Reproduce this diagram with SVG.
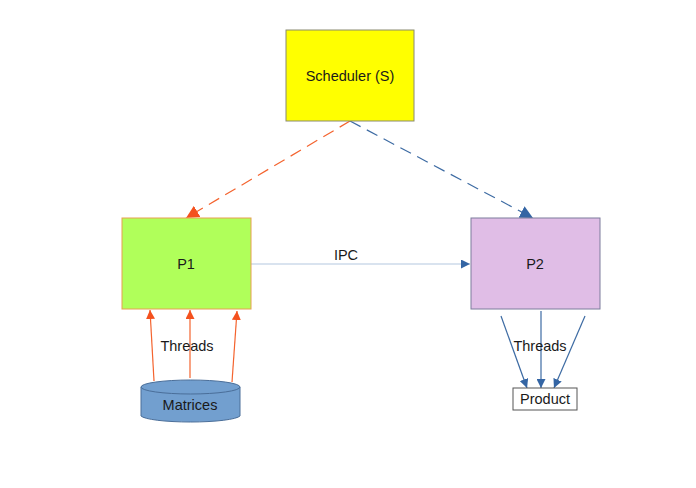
<svg xmlns="http://www.w3.org/2000/svg" width="696" height="488" viewBox="0 0 696 488">
<defs>
<style>
text{font-family:"Liberation Sans",Arial,sans-serif;font-size:14.5px;fill:#1a1a1a;text-anchor:middle;dominant-baseline:central}
.or{stroke:#f4632e;stroke-width:1.2;fill:none}
.bl{stroke:#3d6ba3;stroke-width:1.2;fill:none}
</style>
<marker id="ao" viewBox="0 0 10 10" refX="10" refY="5" markerWidth="9" markerHeight="9" markerUnits="userSpaceOnUse" orient="auto"><path d="M0,0L10,5L0,10z" fill="#f4511e"/></marker>
<marker id="ab" viewBox="0 0 10 10" refX="10" refY="5" markerWidth="9" markerHeight="9" markerUnits="userSpaceOnUse" orient="auto"><path d="M0,0L10,5L0,10z" fill="#3465a4"/></marker>
<marker id="aoL" viewBox="0 0 10 10" refX="10" refY="5" markerWidth="13" markerHeight="13" markerUnits="userSpaceOnUse" orient="auto"><path d="M0,0L10,5L0,10z" fill="#f4511e"/></marker>
<marker id="abL" viewBox="0 0 10 10" refX="10" refY="5" markerWidth="13" markerHeight="13" markerUnits="userSpaceOnUse" orient="auto"><path d="M0,0L10,5L0,10z" fill="#3465a4"/></marker>
</defs>
<rect width="696" height="488" fill="#fff"/>
<g id="connectors">
<line class="or" x1="350" y1="121" x2="186" y2="218" stroke-width="1.6" stroke-dasharray="12,7" marker-end="url(#aoL)"/>
<line class="bl" x1="350" y1="121" x2="533" y2="218" stroke-width="1.6" stroke-dasharray="12,7" marker-end="url(#abL)"/>
<line x1="251" y1="264" x2="470" y2="264" stroke="#b4c8e0" stroke-width="1.2" marker-end="url(#ab)"/>
<text x="346" y="255">IPC</text>
<line class="or" x1="154" y1="381" x2="150" y2="310" marker-end="url(#ao)"/>
<line class="or" x1="190" y1="378" x2="190" y2="310" marker-end="url(#ao)"/>
<line class="or" x1="232" y1="382" x2="237" y2="311" marker-end="url(#ao)"/>
<text x="187" y="346">Threads</text>
<line class="bl" x1="501" y1="316" x2="527" y2="388" marker-end="url(#ab)"/>
<line class="bl" x1="541" y1="311" x2="541" y2="388" marker-end="url(#ab)"/>
<line class="bl" x1="585" y1="316" x2="554" y2="388" marker-end="url(#ab)"/>
<text x="540" y="346">Threads</text>
</g>
<g id="scheduler">
<rect x="286" y="30" width="128" height="91" fill="#ffff00" stroke="#8a8a70" stroke-width="1"/>
<text x="350" y="75.5">Scheduler (S)</text>
</g>
<g id="p1">
<rect x="122" y="218" width="129" height="91" fill="#b0ff5a" stroke="#e8a050" stroke-width="1"/>
<text x="186" y="264">P1</text>
</g>
<g id="p2">
<rect x="471" y="218" width="129" height="91" fill="#e0bde6" stroke="#7c7c9c" stroke-width="1"/>
<text x="535" y="264">P2</text>
</g>
<g id="matrices">
<path d="M141,387 L141,416 A50,7 0 0 0 240,416 L240,387" fill="#729fcf" stroke="#4a6e99" stroke-width="1"/>
<ellipse cx="190.5" cy="387" rx="49.5" ry="7" fill="#729fcf" stroke="#4a6e99" stroke-width="1"/>
<text x="190" y="405">Matrices</text>
</g>
<g id="product">
<rect x="513" y="388" width="64" height="22" fill="#fff" stroke="#555" stroke-width="1"/>
<text x="545" y="399">Product</text>
</g>
</svg>
